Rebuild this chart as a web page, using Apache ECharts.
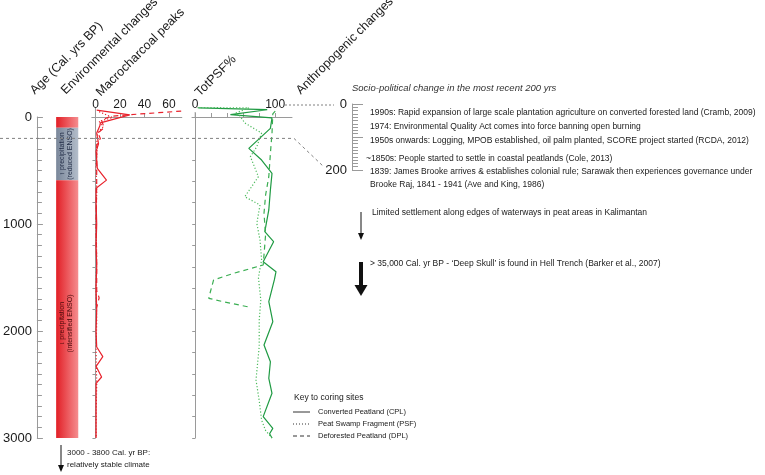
<!DOCTYPE html>
<html lang="en">
<head>
<meta charset="UTF-8">
<title>Peat core records</title>
<style>
  html, body { margin: 0; padding: 0; background: #fff; }
  #chart { width: 765px; height: 475px; }
</style>
<script src="https://cdn.jsdelivr.net/npm/echarts@6/dist/echarts.min.js"></script>
</head>
<body>
<div id="chart"></div>
<script>
// ages in Cal. yrs BP (negative = after 1950)
// environmental zones: [from, to, kind]  kind 0 = drier (red), 1 = wetter (grey)
const envZones = [
  [0, 100, 0],
  [100, 590, 1],
  [590, 3000, 0]
];

// macrocharcoal peaks: [value, age]
const charCPL = [[1,-65],[28,-20],[4,55],[3.5,85],[1,150],[2.5,250],[0.5,320],[1,400],[1.5,480],[9,590],[0.5,665],[0.5,800],[1,1000],[0.5,1200],[1,1400],[0.5,1600],[1,1800],[0.5,2000],[1,2150],[6,2240],[0.5,2330],[5,2430],[0.5,2490],[0.5,2700],[0.5,3000]];
const charPSF = [[3,-50],[14,5],[3,40],[6,95],[3,130],[1,180],[1.5,300],[0.5,450],[1,700],[0.5,1000],[1,1300],[0.5,1600],[1,1900],[0.5,2200],[1,2500],[0.5,2800],[0.5,3000]];
const charDPL = [[70,-55],[26,-20],[12,-5],[5,30],[7,100],[2,150],[4,200],[1,260],[1,600],[0.5,1000],[1,1400],[1,1620],[3,1690],[1,1780]];

// TotPSF %: [value, age]
const psfCPL = [[4,-85],[90,-68],[44,-22],[96,9],[94,106],[67,293],[83,402],[96,527],[94,682],[92,869],[87,1072],[98,1165],[85,1352],[101,1446],[99,1520],[92,1726],[97,1913],[86,2131],[94,2287],[92,2442],[96,2582],[85,2800],[97,2910],[93,2960],[96,3000]];
const psfPSF = [[3,-88],[67,-85],[50,-35],[56,-9],[62,56],[83,150],[77,277],[69,371],[79,558],[62,745],[81,822],[77,994],[81,1150],[83,1336],[79,1500],[82,1710],[80,1900],[80,2147],[76,2458],[80,2650],[83,2832],[88,2930],[96,3000]];
const psfDPL = [[100,-55],[97,-30],[96,152],[94,340],[92,558],[88,729],[86,900],[88,1100],[85,1383],[48,1461],[23,1523],[19,1633],[17,1695],[35,1726],[69,1779]];

const charTicks = [0, 20, 40, 60];
const psfTicks = [0, 20, 40, 60, 80, 100];
const psfLabels = [0, 100];

const socioNotes = [
  '1990s: Rapid expansion of large scale plantation agriculture on converted forested land (Cramb, 2009)',
  '1974: Environmental Quality Act comes into force banning open burning',
  '1950s onwards: Logging, MPOB established, oil palm planted, SCORE project started (RCDA, 2012)',
  '~1850s: People started to settle in coastal peatlands (Cole, 2013)',
  '1839: James Brooke arrives & establishes colonial rule; Sarawak then experiences governance under',
  'Brooke Raj, 1841 - 1941 (Ave and King, 1986)'
];

const FONT = '"Liberation Sans", Arial, sans-serif';
const RED = '#e8212b';
const GREEN_D = '#1e9a42';
const GREEN_L = '#4cba5c';
const GREEN_M = '#3aae52';
const AXIS = '#9a9a9a';
const INK = '#1a1a1a';

const dryFill = { type: 'linear', x: 0, y: 0, x2: 1, y2: 0,
  colorStops: [{ offset: 0, color: '#e21f26' }, { offset: 1, color: '#f58d8f' }] };
const wetFill = { type: 'linear', x: 0, y: 0, x2: 1, y2: 0,
  colorStops: [{ offset: 0, color: '#7a879a' }, { offset: 1, color: '#b3bdca' }] };

function profile(name, data, axis, color, dash) {
  return {
    name: name, type: 'line', xAxisIndex: axis, yAxisIndex: axis,
    data: data, symbol: 'none', silent: true, clip: false,
    lineStyle: { color: color, width: 1.2, type: dash }
  };
}

function depthAxis(grid) {
  return { gridIndex: grid, type: 'value', inverse: true, min: 0, max: 3000, interval: 200,
    axisLine: { show: true, onZero: true, lineStyle: { color: AXIS } },
    axisTick: { show: true, length: 3, lineStyle: { color: AXIS } },
    axisLabel: { show: false },
    splitLine: { show: false } };
}

const chart = echarts.init(document.getElementById('chart'));

chart.setOption({
  animation: false,
  textStyle: { fontFamily: FONT },
  grid: [
    { left: 35, top: 117, width: 50, height: 321 },
    { left: 91.8, top: 117, width: 90, height: 321 },
    { left: 192, top: 117, width: 100, height: 321 },
    { left: 352, top: 104, width: 14, height: 66 }
  ],
  xAxis: [
    { gridIndex: 0, type: 'value', min: 0, max: 50, show: false },
    { gridIndex: 1, type: 'value', min: -3, max: 70.5, position: 'top',
      axisLine: { onZero: false, lineStyle: { color: AXIS } },
      axisTick: { customValues: charTicks, length: 4, lineStyle: { color: AXIS } },
      axisLabel: { customValues: charTicks, fontSize: 12, color: INK, margin: 6 },
      splitLine: { show: false } },
    { gridIndex: 2, type: 'value', min: -4, max: 121, position: 'top',
      axisLine: { onZero: false, lineStyle: { color: AXIS } },
      axisTick: { customValues: psfTicks, length: 4, lineStyle: { color: AXIS } },
      axisLabel: { customValues: psfLabels, fontSize: 12, color: INK, margin: 6 },
      splitLine: { show: false } },
    { gridIndex: 3, type: 'value', min: 0, max: 1, show: false }
  ],
  yAxis: [
    { gridIndex: 0, type: 'value', inverse: true, min: 0, max: 3000, interval: 1000,
      axisLine: { show: true, lineStyle: { color: AXIS } },
      axisTick: { show: true, inside: true, length: 6, lineStyle: { color: AXIS } },
      minorTick: { show: true, splitNumber: 10, length: 5, lineStyle: { color: AXIS } },
      axisLabel: { fontSize: 13, color: INK, margin: 5,
        formatter: function (v) { return String(v); } },
      splitLine: { show: false } },
    depthAxis(1),
    depthAxis(2),
    { gridIndex: 3, type: 'value', inverse: true, min: 0, max: 200, interval: 100,
      axisLine: { show: true, lineStyle: { color: AXIS } },
      axisTick: { show: true, inside: true, length: 11, lineStyle: { color: AXIS } },
      minorTick: { show: true, splitNumber: 10, length: 6, lineStyle: { color: AXIS } },
      axisLabel: { fontSize: 13, color: INK, margin: 5,
        formatter: function (v) { return (v === 0 || v === 200) ? String(v) : ''; } },
      splitLine: { show: false } }
  ],
  series: [
    {
      type: 'custom', xAxisIndex: 0, yAxisIndex: 0, silent: true,
      encode: { y: [0, 1] },
      data: envZones,
      renderItem: function (params, api) {
        const p0 = api.coord([20, api.value(0)]);
        const p1 = api.coord([43, api.value(1)]);
        return {
          type: 'rect',
          shape: { x: p0[0], y: p0[1], width: p1[0] - p0[0], height: p1[1] - p0[1] },
          style: { fill: api.value(2) === 1 ? wetFill : dryFill }
        };
      }
    },
    profile('CPL', charCPL, 1, RED, 'solid'),
    profile('PSF', charPSF, 1, RED, [1.2, 2]),
    profile('DPL', charDPL, 1, RED, [5, 4]),
    profile('CPL', psfCPL, 2, GREEN_D, 'solid'),
    profile('PSF', psfPSF, 2, GREEN_L, [1.2, 2]),
    profile('DPL', psfDPL, 2, GREEN_M, [5, 4])
  ]
});

// annotations placed from the axes
const y0 = chart.convertToPixel({ yAxisIndex: 0 }, 0);
const y200 = chart.convertToPixel({ yAxisIndex: 0 }, 200);
const yWet = chart.convertToPixel({ yAxisIndex: 0 }, 345);
const yDry = chart.convertToPixel({ yAxisIndex: 0 }, 1930);
const xChar0 = chart.convertToPixel({ xAxisIndex: 1 }, 0);
const xPsf0 = chart.convertToPixel({ xAxisIndex: 2 }, 0);

function txt(text, x, y, size, extra) {
  const el = {
    type: 'text', x: x, y: y, z: 100, silent: true,
    style: Object.assign({ text: text, fontSize: size, fontFamily: FONT, fill: INK,
      align: 'left', verticalAlign: 'middle' }, (extra && extra.style) || {})
  };
  if (extra && extra.rotation !== undefined) el.rotation = extra.rotation;
  return el;
}
function head(text, x, y) {
  return txt(text, x, y, 12.5, { rotation: Math.PI / 4, style: { verticalAlign: 'bottom' } });
}
function seg(x1, y1, x2, y2, stroke, w, dash) {
  return { type: 'line', z: 100, silent: true, shape: { x1: x1, y1: y1, x2: x2, y2: y2 },
    style: { stroke: stroke, lineWidth: w, lineDash: dash || null } };
}
function arrow(x, y1, y2, w, hw, hl) {
  return [
    seg(x, y1, x, y2 - hl + 1, '#111', w),
    { type: 'polygon', z: 100, silent: true,
      shape: { points: [[x - hw, y2 - hl], [x + hw, y2 - hl], [x, y2]] },
      style: { fill: '#111' } }
  ];
}
function key(y, dash, label) {
  return [seg(293, y, 310, y, '#333', 1, dash), txt(label, 318, y, 7.5)];
}

const graphics = [
  head('Age (Cal. yrs BP)', 37, 97),
  head('Environmental changes', 68, 97),
  head('Macrocharcoal peaks', 103, 99),
  head('TotPSF%', 202, 99),
  head('Anthropogenic changes', 303, 97),

  txt('\u2191 precipitation\n(reduced ENSO)', 66, yWet, 7,
    { rotation: Math.PI / 2, style: { align: 'center', fill: '#1f2a44', lineHeight: 8 } }),
  txt('\u2193 precipitation\n(intensified ENSO)', 66, yDry, 7,
    { rotation: Math.PI / 2, style: { align: 'center', fill: '#4a0c0c', lineHeight: 8 } }),

  // axis stubs above age 0
  seg(xChar0, 108, xChar0, y0, AXIS, 1),
  seg(xPsf0, 112, xPsf0, y0, AXIS, 1),

  { type: 'polyline', z: 100, silent: true, shape: { points: [[0, y200], [294, y200], [324, 167]] },
    style: { stroke: '#808080', lineWidth: 1, lineDash: [3, 3], fill: null } },
  { type: 'polyline', z: 100, silent: true, shape: { points: [[285, 105], [334, 105]] },
    style: { stroke: '#808080', lineWidth: 1, lineDash: [2, 2], fill: null } },

  txt('Socio-political change in the most recent 200 yrs', 352, 88, 9.5,
    { style: { fontStyle: 'italic', fill: '#333' } }),
  txt(socioNotes[0], 370, 113, 8.5),
  txt(socioNotes[1], 370, 127, 8.5),
  txt(socioNotes[2], 370, 141, 8.5),
  txt(socioNotes[3], 366, 159, 8.5),
  txt(socioNotes[4], 370, 172, 8.5),
  txt(socioNotes[5], 370, 185, 8.5),

  txt('Limited settlement along edges of waterways in peat areas in Kalimantan', 372, 213, 8.5),
  txt('> 35,000 Cal. yr BP - \u2018Deep Skull\u2019 is found in Hell Trench (Barker et al., 2007)', 370, 264, 8.5),

  txt('Key to coring sites', 294, 398, 8.5),

  txt('3000 - 3800 Cal. yr BP:', 67, 453, 8),
  txt('relatively stable climate', 67, 465, 8)
]
  .concat(arrow(361, 212, 240, 1, 3, 7))
  .concat(arrow(361, 262, 296, 4, 6.5, 11))
  .concat(arrow(61, 445, 472, 1, 3, 7))
  .concat(key(412, null, 'Converted Peatland (CPL)'))
  .concat(key(424, [1, 2], 'Peat Swamp Fragment (PSF)'))
  .concat(key(436, [4, 3], 'Deforested Peatland (DPL)'));

chart.setOption({ graphic: graphics });
</script>
</body>
</html>
